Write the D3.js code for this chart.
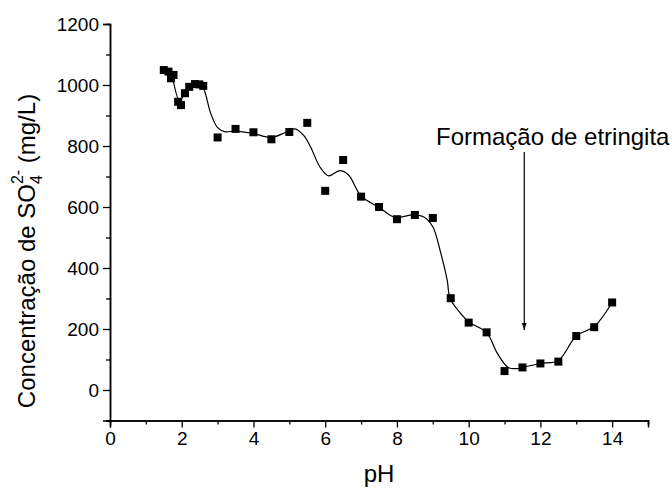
<!DOCTYPE html>
<html>
<head>
<meta charset="utf-8">
<script src="https://cdn.jsdelivr.net/npm/d3@7"></script>
<style>
  body { margin: 0; background: #fff; }
  svg { display: block; font-family: Arial, "Liberation Sans", sans-serif; }
</style>
</head>
<body>
<div id="chart"></div>
<script>
// measured points (pH, sulfate mg/L)
const phValues = [1.5, 1.63, 1.7, 1.77, 1.9, 1.98, 2.09, 2.21, 2.37, 2.49, 2.6,
  3.0, 3.5, 4.0, 4.5, 5.0, 5.5, 6.0, 6.5, 7.0, 7.5, 8.0, 8.5, 9.0, 9.5,
  10.0, 10.5, 11.0, 11.5, 12.0, 12.5, 13.0, 13.5, 14.0];
const sulfateValues = [1049, 1044, 1022, 1033, 945, 934, 973, 994, 1003, 1002, 997,
  828, 856, 845, 822, 846, 876, 653, 754, 634, 600, 560, 574, 564, 301,
  221, 189, 62, 74, 87, 93, 177, 206, 287];

// smoothed curve
const curvePh = [1.72, 1.95, 2.1, 2.25, 2.42, 2.6, 2.8, 3.0, 3.2, 3.5, 4.0, 4.5, 4.9,
  5.15, 5.4, 5.6, 5.85, 6.1, 6.4, 6.65, 7.0, 7.5, 7.95, 8.45, 8.75, 9.0, 9.2,
  9.4, 9.48, 9.7, 10.0, 10.5, 10.8, 11.1, 11.35, 11.5, 12.0, 12.5, 13.0, 13.5, 14.0];
const curveSulfate = [1040, 945, 985, 1005, 1010, 990, 910, 860, 847, 849, 841, 828, 845,
  856, 835, 795, 732, 702, 719, 705, 636, 599, 566, 574, 567, 535, 459,
  361, 301, 262, 224, 188, 120, 74, 70, 74, 87, 97, 177, 208, 287];

const xTicks = [0, 2, 4, 6, 8, 10, 12, 14];
const xMinorTicks = [1, 3, 5, 7, 9, 11, 13, 15];
const yTicks = [0, 200, 400, 600, 800, 1000, 1200];
const yMinorTicks = [-100, 100, 300, 500, 700, 900, 1100];

const annotationText = 'Formação de etringita';
const annotationPos = [9.09, 803];       // text start (pH, mg/L)
const arrowFrom = [11.55, 780];
const arrowTo = [11.55, 197];

const width = 672;
const height = 488;

const x = d3.scaleLinear().domain([0, 15]).range([110, 648]);
const y = d3.scaleLinear().domain([-100, 1200]).range([420.5, 24]);

const svg = d3.select('#chart')
  .append('svg')
  .attr('width', width)
  .attr('height', height);

// axes
const xAxis = svg.append('g')
  .attr('transform', `translate(0,${y(-100)})`)
  .call(d3.axisBottom(x).tickValues(xTicks).tickSize(7).tickPadding(4).tickFormat(d3.format('d')));
xAxis.append('g')
  .call(d3.axisBottom(x).tickValues(xMinorTicks).tickSize(4).tickFormat(''));

const yAxis = svg.append('g')
  .attr('transform', `translate(${x(0)},0)`)
  .call(d3.axisLeft(y).tickValues(yTicks).tickSize(7).tickPadding(4).tickFormat(d3.format('d')));
yAxis.append('g')
  .call(d3.axisLeft(y).tickValues(yMinorTicks).tickSize(4).tickFormat(''));

svg.selectAll('.domain').attr('stroke', '#000').attr('stroke-width', 1.5);
svg.selectAll('.tick line').attr('stroke', '#000').attr('stroke-width', 1.3);
svg.selectAll('.tick text')
  .attr('fill', '#000')
  .style('font-size', '19px');

// axis titles
svg.append('text')
  .attr('x', x(7.5))
  .attr('y', 482)
  .attr('text-anchor', 'middle')
  .style('font-size', '24px')
  .text('pH');

const yTitle = svg.append('text')
  .attr('transform', `translate(35,251) rotate(-90)`)
  .attr('text-anchor', 'middle')
  .style('font-size', '24px');
yTitle.append('tspan').text('Concentração de SO');
yTitle.append('tspan').attr('dy', 7).style('font-size', '16px').text('4');
yTitle.append('tspan').attr('dx', -9).attr('dy', -19).style('font-size', '16px').text('2-');
yTitle.append('tspan').attr('dy', 12).text(' (mg/L)');

// fitted curve
const curveData = curvePh.map((p, i) => [p, curveSulfate[i]]);
svg.append('path')
  .datum(curveData)
  .attr('fill', 'none')
  .attr('stroke', '#000')
  .attr('stroke-width', 1.2)
  .attr('d', d3.line()
    .x(d => x(d[0]))
    .y(d => y(d[1]))
    .curve(d3.curveCatmullRom.alpha(0.5)));

// markers
const pts = phValues.map((p, i) => [p, sulfateValues[i]]);
const s = 8;
svg.append('g')
  .selectAll('rect')
  .data(pts)
  .join('rect')
  .attr('x', d => x(d[0]) - s / 2)
  .attr('y', d => y(d[1]) - s / 2)
  .attr('width', s)
  .attr('height', s)
  .attr('fill', '#000');

// annotation
svg.append('defs').append('marker')
  .attr('id', 'head')
  .attr('viewBox', '0 0 10 10')
  .attr('refX', 10)
  .attr('refY', 5)
  .attr('markerWidth', 9)
  .attr('markerHeight', 7)
  .attr('markerUnits', 'userSpaceOnUse')
  .attr('orient', 'auto')
  .append('path')
  .attr('d', 'M0,1.5 L10,5 L0,8.5 Z')
  .attr('fill', '#000');

svg.append('line')
  .attr('x1', x(arrowFrom[0]))
  .attr('y1', y(arrowFrom[1]))
  .attr('x2', x(arrowTo[0]))
  .attr('y2', y(arrowTo[1]))
  .attr('stroke', '#000')
  .attr('stroke-width', 1.2)
  .attr('marker-end', 'url(#head)');

svg.append('text')
  .attr('x', x(annotationPos[0]))
  .attr('y', y(annotationPos[1]))
  .style('font-size', '24px')
  .text(annotationText);
</script>
</body>
</html>
